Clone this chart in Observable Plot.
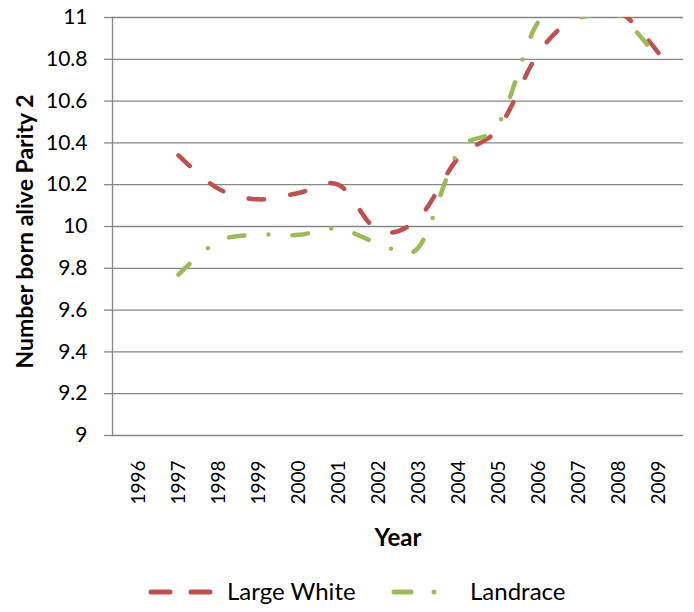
<!DOCTYPE html>
<html><head><meta charset="utf-8">
<script src="https://cdn.jsdelivr.net/npm/d3@7"></script>
<script src="https://cdn.jsdelivr.net/npm/@observablehq/plot@0.6"></script>
<style>
body{margin:0;background:#fff;font-family:Lato,sans-serif;}
#wrap{width:694px;height:612px;position:relative;overflow:hidden;}
#chart{position:absolute;left:0;top:0;}
#legend{position:absolute;left:0;top:570px;width:694px;height:42px;}
</style></head><body><div id="wrap"><div id="chart"></div><div id="legend"></div></div>
<script>
const years = ["1996","1997","1998","1999","2000","2001","2002","2003","2004","2005","2006","2007","2008","2009"];
const largeWhite = [null,10.34,10.18,10.13,10.16,10.20,9.98,10.04,10.33,10.47,10.83,11.01,11.03,10.83];
const landrace = [null,9.77,9.93,9.96,9.96,9.99,9.92,9.90,10.36,10.49,10.98,11.0,11.01,10.80];
const yTicks = [9,9.2,9.4,9.6,9.8,10,10.2,10.4,10.6,10.8,11];
const yTickLabels = ["9","9.2","9.4","9.6","9.8","10","10.2","10.4","10.6","10.8","11"];
const seriesNames = ["Large White","Landrace"];
const seriesColors = ["#c0504d","#9bbb59"];
const yLabel = "Number born alive Parity 2";
const xLabel = "Year";

const rowsOf = (arr, name) => years.map((y,i)=>({year:y, value:arr[i], series:name})).filter(d=>d.value!=null);
const lw = rowsOf(largeWhite, seriesNames[0]);
const lr = rowsOf(landrace, seriesNames[1]);

const grid = "#868686";
const chart = Plot.plot({
  width:694, height:570,
  marginLeft:112, marginRight:11, marginTop:17, marginBottom:135,
  style:{fontFamily:"Lato, sans-serif", background:"white", color:"#000", overflow:"visible"},
  x:{type:"point", domain:years, padding:0.5, axis:null},
  y:{domain:[9,11], axis:null},
  marks:[
    Plot.gridY(yTicks.slice(1), {stroke:grid, strokeOpacity:1, strokeWidth:1.3}),
    Plot.ruleY([9], {stroke:grid, strokeWidth:1.3}),
    Plot.frame({anchor:"left", stroke:grid, strokeWidth:1.3}),
    Plot.axisY(yTicks, {anchor:"left", label:null, tickSize:8, tickPadding:17, stroke:grid, strokeWidth:1.3, fill:"#000", fontSize:21,
      tickFormat:d=>yTickLabels[yTicks.indexOf(d)]}),
    Plot.axisX(years, {anchor:"bottom", label:null, tickSize:0, tickPadding:25, tickRotate:-90, fontSize:19, fill:"#000"}),
    Plot.line(lw, {x:"year", y:"value", stroke:seriesColors[0], strokeWidth:4.5, strokeLinecap:"round", strokeLinejoin:"round",
      strokeDasharray:"15.5,26.5", curve:"cardinal", clip:true}),
    Plot.line(lr, {x:"year", y:"value", stroke:seriesColors[1], strokeWidth:4.5, strokeLinecap:"round", strokeLinejoin:"round",
      strokeDasharray:"15.5,24,0,24", curve:"cardinal", clip:true}),
    Plot.text([yLabel], {text:d=>d, frameAnchor:"left", textAnchor:"middle", dx:-87, dy:5, rotate:-90, fontSize:23, fontWeight:"bold", fill:"#000"}),
    Plot.text([xLabel], {text:d=>d, frameAnchor:"bottom", textAnchor:"middle", dy:110, fontSize:24, fontWeight:"bold", fill:"#000"})
  ]
});
document.getElementById("chart").appendChild(chart);

// legend
const leg = d3.select("#legend").append("svg").attr("width",694).attr("height",42);
leg.append("line").attr("x1",151).attr("x2",210).attr("y1",22).attr("y2",22)
  .attr("stroke",seriesColors[0]).attr("stroke-width",5).attr("stroke-linecap","round").attr("stroke-dasharray","19,21");
leg.append("text").attr("x",227).attr("y",22).attr("dy","0.35em").attr("font-size",24).attr("font-family","Lato, sans-serif").attr("fill","#000").text(seriesNames[0]);
leg.append("line").attr("x1",394).attr("x2",460).attr("y1",22).attr("y2",22)
  .attr("stroke",seriesColors[1]).attr("stroke-width",5).attr("stroke-linecap","round").attr("stroke-dasharray","17,23,0,26,0,100");
leg.append("text").attr("x",470).attr("y",22).attr("dy","0.35em").attr("font-size",24).attr("font-family","Lato, sans-serif").attr("fill","#000").text(seriesNames[1]);
</script></body></html>
